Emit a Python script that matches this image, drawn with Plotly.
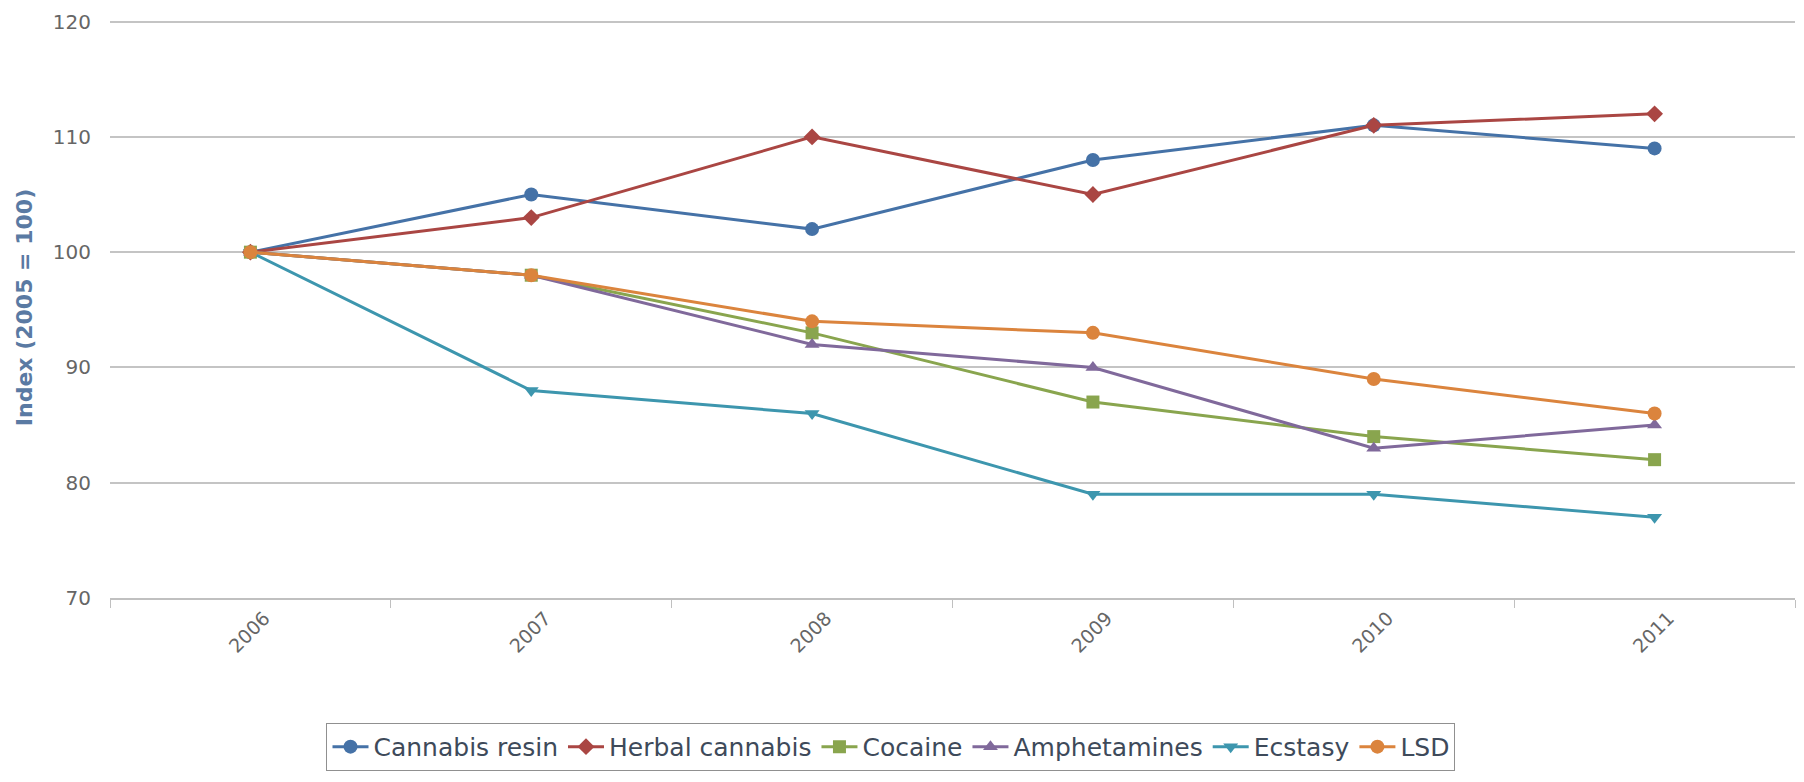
import plotly.graph_objects as go

years = ["2006", "2007", "2008", "2009", "2010", "2011"]
cannabis_resin = [100, 105, 102, 108, 111, 109]
herbal_cannabis = [100, 103, 110, 105, 111, 112]
cocaine = [100, 98, 93, 87, 84, 82]
amphetamines = [100, 98, 92, 90, 83, 85]
ecstasy = [100, 88, 86, 79, 79, 77]
lsd = [100, 98, 94, 93, 89, 86]

series = [
    ("Cannabis resin", cannabis_resin, "#4572A7", "circle", 14),
    ("Herbal cannabis", herbal_cannabis, "#AA4643", "diamond", 13),
    ("Cocaine", cocaine, "#89A54E", "square", 13),
    ("Amphetamines", amphetamines, "#80699B", "triangle-up", 13),
    ("Ecstasy", ecstasy, "#3D96AE", "triangle-down", 13),
    ("LSD", lsd, "#DB843D", "circle", 14),
]

FONT = "DejaVu Sans"

fig = go.Figure()
for name, vals, color, sym, sz in series:
    fig.add_trace(go.Scatter(
        x=years, y=vals, name=name, mode="lines+markers",
        line=dict(color=color, width=3),
        marker=dict(symbol=sym, size=sz, color=color),
    ))

fig.update_layout(
    width=1804, height=782,
    margin=dict(l=102, r=17, t=8.5, b=192),
    paper_bgcolor="white", plot_bgcolor="white",
    font=dict(family=FONT, color="#666666", size=19),
    showlegend=True,
    legend=dict(
        orientation="h", x=0.4635, xanchor="center", y=-0.215, yanchor="top",
        bordercolor="#909090", borderwidth=1,
        font=dict(family=FONT, size=25, color="#3E4A5A"),
        itemwidth=36,
    ),
    xaxis=dict(
        type="category", range=[-0.5, 5.5], automargin=False,
        showgrid=False, zeroline=False,
        showline=True, linecolor="#C0C0C0", linewidth=1.5,
        ticks="outside", tickson="boundaries", ticklen=8, tickcolor="#C0C0C0",
        tickangle=-45, ticklabelshift=14,
        tickfont=dict(family=FONT, size=19, color="#666666"),
    ),
    yaxis=dict(
        range=[70, 120.4], dtick=10, tick0=70, automargin=False,
        showgrid=True, gridcolor="#C4C4C4", gridwidth=1.5,
        zeroline=False, showline=False,
        ticks="", ticklabelstandoff=18, ticklabeloverflow="allow",
        tickfont=dict(family=FONT, size=20, color="#666666"),
        title=dict(text="<b>Index (2005 = 100)</b>",
                   font=dict(family=FONT, size=22, color="#5a7aa3"), standoff=14),
    ),
)

fig.write_html("out.html")
